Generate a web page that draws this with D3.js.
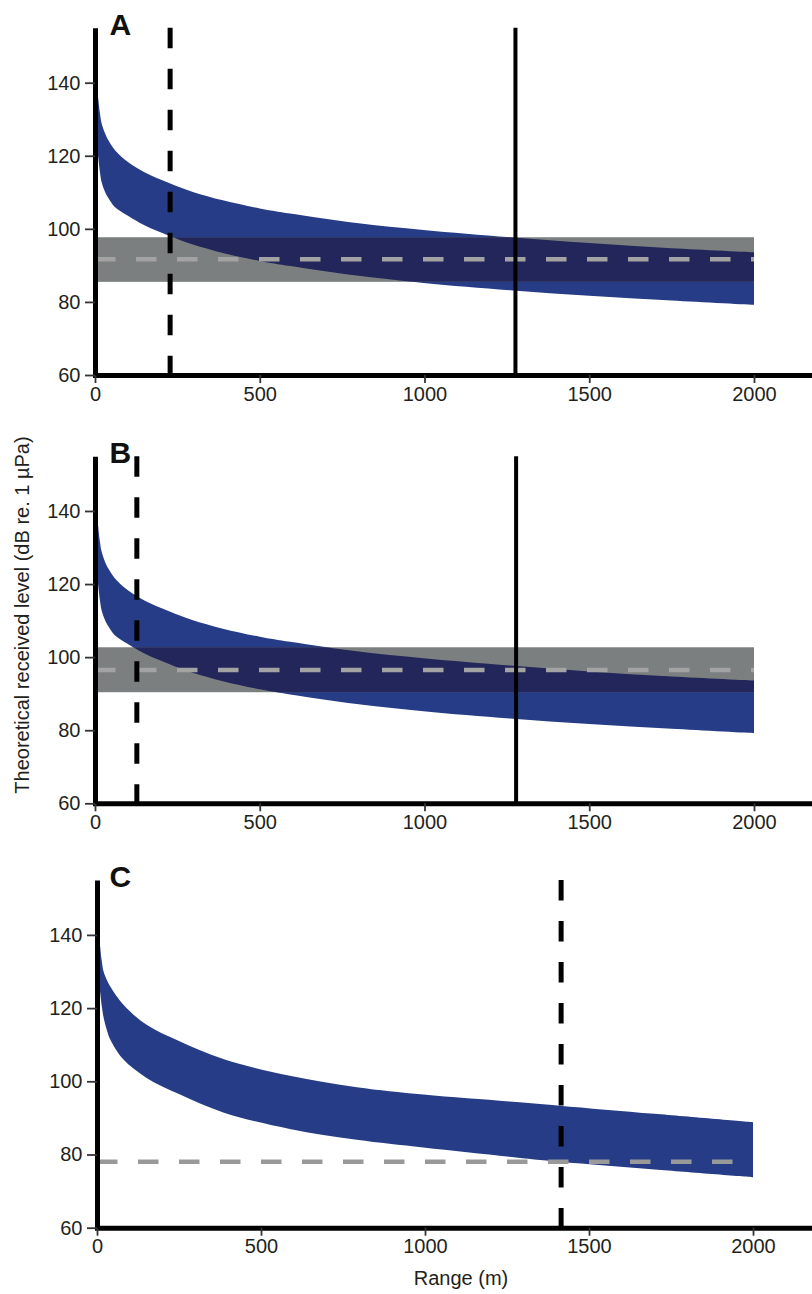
<!DOCTYPE html>
<html>
<head>
<meta charset="utf-8">
<script src="https://cdn.jsdelivr.net/npm/d3@7"></script>
<style>
  body { margin: 0; background: #fff; }
  svg { display: block; font-family: "Liberation Sans", Arial, Helvetica, sans-serif; }
  .tick text { font-size: 20px; fill: #231f20; }
  .tick line { stroke: #333; stroke-width: 1.8; }
</style>
</head>
<body>
<svg id="chart" width="812" height="1294"></svg>
<script>
// values
const panelLabels = ["A", "B", "C"];
const xTicks = [0, 500, 1000, 1500, 2000];
const yTicks = [60, 80, 100, 120, 140];

// panels A and B share the same modelled received-level band
const rangeAB = [5, 10, 15, 20, 30, 40, 60, 100, 150, 223, 297, 388, 500, 592, 794, 997, 1259, 1500, 1750, 2000];
const upperAB = [143.5, 135.5, 131.6, 128.9, 126.2, 124.3, 121.6, 118.3, 115.5, 112.6, 110.1, 107.8, 105.6, 104.2, 101.6, 99.7, 97.7, 96.1, 94.7, 93.6];
const lowerAB = [127, 119.5, 115.5, 112.8, 110.2, 108.5, 106, 103.6, 101, 98.2, 95.7, 93.4, 91.2, 89.8, 87.2, 85.2, 83.2, 81.7, 80.4, 79.2];

const rangeC = [5, 10, 15, 20, 30, 40, 80, 150, 250, 385, 588, 792, 995, 1257, 1410, 1700, 2000];
const upperC = [145, 136.5, 132.6, 130, 127.7, 126, 121, 115.5, 111, 106.1, 101.5, 98.4, 96.4, 94.5, 93.35, 91.1, 88.8];
const lowerC = [130.4, 124, 120.3, 117.5, 114, 111.5, 106, 101, 96.5, 91.5, 87, 84, 81.9, 79.4, 78, 75.9, 73.8];

// ambient / threshold level (mean and spread), per panel
const thrMean = [91.7, 96.5, 78];
const thrLow = [85.5, 90.4, null];
const thrHigh = [97.7, 102.7, null];

// vertical marker ranges (m)
const dashedRange = [228, 127, 1415];
const solidRange = [1276, 1278, null];

const svg = d3.select("#chart");

const panels = [
    { x0: 95, x1: 754, yBottom: 375, pxPerDb: 3.654, range: rangeAB, upper: upperAB, lower: lowerAB },
    { x0: 95, x1: 754, yBottom: 803.3, pxPerDb: 3.654, range: rangeAB, upper: upperAB, lower: lowerAB },
    { x0: 97, x1: 753, yBottom: 1227.7, pxPerDb: 3.66, range: rangeC, upper: upperC, lower: lowerC }
];

panels.forEach((p, i) => {
    const xMax = 2000 * (813 - p.x0) / (p.x1 - p.x0);
    const x = d3.scaleLinear().domain([0, xMax]).range([p.x0, 813]);
    const y = d3.scaleLinear().domain([60, 155]).range([p.yBottom, p.yBottom - 95 * p.pxPerDb]);

    const g = svg.append("g");
    const pts = p.range.map((r, k) => ({ r: r, hi: p.upper[k], lo: p.lower[k] }));

    const area = d3.area()
        .x(d => x(d.r))
        .y0(d => y(d.lo))
        .y1(d => y(d.hi))
        .curve(d3.curveCatmullRom.alpha(0.5));

    g.append("path").attr("d", area(pts)).attr("fill", "#263c86");

    if (thrLow[i] !== null) {
        // grey spread of the threshold, overlap drawn darker
        const bx = x(0), bw = x(2000) - x(0);
        const by = y(thrHigh[i]), bh = y(thrLow[i]) - y(thrHigh[i]);
        g.append("rect")
            .attr("x", bx).attr("y", by).attr("width", bw).attr("height", bh)
            .attr("fill", "#7b7f7f");

        const clipId = "clip" + i;
        g.append("clipPath").attr("id", clipId)
            .append("rect")
            .attr("x", bx).attr("y", by).attr("width", bw).attr("height", bh);
        g.append("path").attr("d", area(pts))
            .attr("fill", "#22265a")
            .attr("clip-path", `url(#${clipId})`);
    }

    // threshold mean
    g.append("line")
        .attr("x1", x(0)).attr("x2", x(2000))
        .attr("y1", y(thrMean[i])).attr("y2", y(thrMean[i]))
        .attr("stroke", thrLow[i] !== null ? "#a3a3a3" : "#999")
        .attr("stroke-width", 4.5)
        .attr("stroke-dasharray", "20.5,20.5");

    // vertical markers
    g.append("line")
        .attr("x1", x(dashedRange[i])).attr("x2", x(dashedRange[i]))
        .attr("y1", y(155)).attr("y2", y(60))
        .attr("stroke", "#000").attr("stroke-width", 5)
        .attr("stroke-dasharray", "20.5,20.5");

    if (solidRange[i] !== null) {
        g.append("line")
            .attr("x1", x(solidRange[i])).attr("x2", x(solidRange[i]))
            .attr("y1", y(155)).attr("y2", y(60))
            .attr("stroke", "#000").attr("stroke-width", 4);
    }

    // axes
    const xAxis = g.append("g")
        .attr("transform", `translate(0,${p.yBottom})`)
        .call(d3.axisBottom(x).tickValues(xTicks).tickFormat(d3.format("d"))
            .tickSize(8).tickSizeOuter(0).tickPadding(3.5));
    xAxis.select(".domain").attr("stroke", "#000").attr("stroke-width", 5).attr("stroke-linecap", "square");

    const yAxis = g.append("g")
        .attr("transform", `translate(${p.x0},0)`)
        .call(d3.axisLeft(y).tickValues(yTicks).tickFormat(d3.format("d"))
            .tickSize(10).tickSizeOuter(0).tickPadding(4.5));
    yAxis.select(".domain").attr("stroke", "#000").attr("stroke-width", 5);

    g.selectAll(".tick text").attr("font-family", null).attr("font-size", null);

    // panel letter
    g.append("text")
        .attr("x", 109.5)
        .attr("y", y(155) + 7)
        .attr("font-size", 30)
        .attr("font-weight", "bold")
        .attr("fill", "#111")
        .text(panelLabels[i]);
});

svg.append("text")
    .attr("transform", "translate(29,615) rotate(-90)")
    .attr("text-anchor", "middle")
    .attr("font-size", 20)
    .attr("fill", "#231f20")
    .text("Theoretical received level (dB re. 1 µPa)");

svg.append("text")
    .attr("x", 461)
    .attr("y", 1285)
    .attr("text-anchor", "middle")
    .attr("font-size", 20)
    .attr("fill", "#231f20")
    .text("Range (m)");
</script>
</body>
</html>
